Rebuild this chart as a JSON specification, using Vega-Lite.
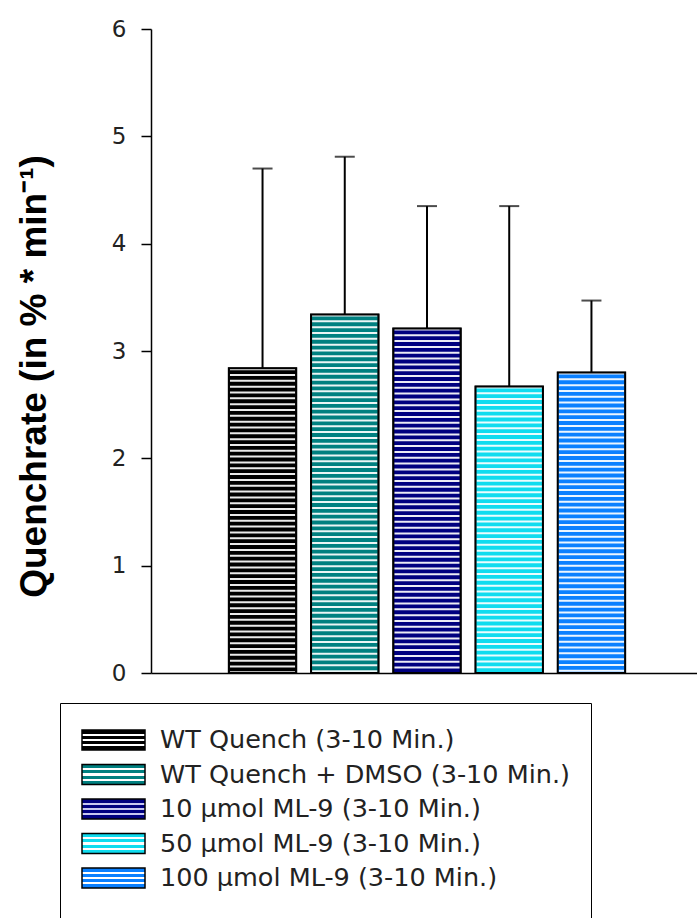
{
  "$schema": "https://vega.github.io/schema/vega-lite/v6.json",
  "width": 546,
  "height": 644,
  "autosize": {"type": "none"},
  "padding": {"left": 151, "top": 29, "right": 0, "bottom": 245},
  "background": "#ffffff",
  "config": {"view": {"stroke": null}, "axis": {"grid": false}},
  "data": {
    "values": [
      {"group": "WT Quench (3-10 Min.)", "mean": 2.84, "upper": 4.70},
      {"group": "WT Quench + DMSO (3-10 Min.)", "mean": 3.34, "upper": 4.81},
      {"group": "10 µmol ML-9 (3-10 Min.)", "mean": 3.21, "upper": 4.35},
      {"group": "50 µmol ML-9 (3-10 Min.)", "mean": 2.67, "upper": 4.35},
      {"group": "100 µmol ML-9 (3-10 Min.)", "mean": 2.80, "upper": 3.47}
    ]
  },
  "encoding": {
    "x": {
      "field": "group",
      "type": "nominal",
      "sort": null,
      "scale": {"paddingInner": 0.18, "paddingOuter": 0.91, "align": 0.52},
      "axis": {"title": null, "labels": false, "ticks": false, "domainColor": "#000000", "domainWidth": 1.5}
    },
    "y": {
      "field": "mean",
      "type": "quantitative",
      "scale": {"domain": [0, 6], "nice": false},
      "axis": {
        "title": "Quenchrate (in % * min⁻¹)",
        "values": [0, 1, 2, 3, 4, 5, 6],
        "format": "d",
        "tickSize": 10,
        "tickWidth": 1.5,
        "tickColor": "#000000",
        "domainColor": "#000000",
        "domainWidth": 1.5,
        "labelFont": "DejaVu Sans",
        "labelFontSize": 23,
        "labelColor": "#222222",
        "labelPadding": 15,
        "labelFlush": false,
        "titleFont": "Liberation Sans",
        "titleFontSize": 37,
        "titleFontWeight": "bold",
        "titleColor": "#000000",
        "titleX": -98,
        "titleY": 347
      }
    }
  },
  "layer": [
    {
      "mark": {"type": "bar", "stroke": "#000000", "strokeWidth": 1.5},
      "encoding": {
        "color": {
          "field": "group",
          "type": "nominal",
          "sort": null,
          "scale": {
            "domain": ["WT Quench (3-10 Min.)", "WT Quench + DMSO (3-10 Min.)", "10 µmol ML-9 (3-10 Min.)", "50 µmol ML-9 (3-10 Min.)", "100 µmol ML-9 (3-10 Min.)"],
            "range": [
              {"expr": "{gradient: 'linear', x1: 0, y1: 0, x2: 0, y2: 1, stops: [{offset: 0, color: '#000000'}, {offset: 0.2, color: '#000000'}, {offset: 0.2, color: '#ffffff'}, {offset: 0.3, color: '#ffffff'}, {offset: 0.3, color: '#000000'}, {offset: 0.45, color: '#000000'}, {offset: 0.45, color: '#ffffff'}, {offset: 0.55, color: '#ffffff'}, {offset: 0.55, color: '#000000'}, {offset: 0.7, color: '#000000'}, {offset: 0.7, color: '#ffffff'}, {offset: 0.8, color: '#ffffff'}, {offset: 0.8, color: '#000000'}, {offset: 1, color: '#000000'}]}"},
              {"expr": "{gradient: 'linear', x1: 0, y1: 0, x2: 0, y2: 1, stops: [{offset: 0, color: '#008080'}, {offset: 0.2, color: '#008080'}, {offset: 0.2, color: '#ffffff'}, {offset: 0.3, color: '#ffffff'}, {offset: 0.3, color: '#008080'}, {offset: 0.45, color: '#008080'}, {offset: 0.45, color: '#ffffff'}, {offset: 0.55, color: '#ffffff'}, {offset: 0.55, color: '#008080'}, {offset: 0.7, color: '#008080'}, {offset: 0.7, color: '#ffffff'}, {offset: 0.8, color: '#ffffff'}, {offset: 0.8, color: '#008080'}, {offset: 1, color: '#008080'}]}"},
              {"expr": "{gradient: 'linear', x1: 0, y1: 0, x2: 0, y2: 1, stops: [{offset: 0, color: '#000080'}, {offset: 0.2, color: '#000080'}, {offset: 0.2, color: '#c8c8f0'}, {offset: 0.3, color: '#c8c8f0'}, {offset: 0.3, color: '#000080'}, {offset: 0.45, color: '#000080'}, {offset: 0.45, color: '#c8c8f0'}, {offset: 0.55, color: '#c8c8f0'}, {offset: 0.55, color: '#000080'}, {offset: 0.7, color: '#000080'}, {offset: 0.7, color: '#c8c8f0'}, {offset: 0.8, color: '#c8c8f0'}, {offset: 0.8, color: '#000080'}, {offset: 1, color: '#000080'}]}"},
              {"expr": "{gradient: 'linear', x1: 0, y1: 0, x2: 0, y2: 1, stops: [{offset: 0, color: '#10dcef'}, {offset: 0.2, color: '#10dcef'}, {offset: 0.2, color: '#ffffff'}, {offset: 0.3, color: '#ffffff'}, {offset: 0.3, color: '#10dcef'}, {offset: 0.45, color: '#10dcef'}, {offset: 0.45, color: '#ffffff'}, {offset: 0.55, color: '#ffffff'}, {offset: 0.55, color: '#10dcef'}, {offset: 0.7, color: '#10dcef'}, {offset: 0.7, color: '#ffffff'}, {offset: 0.8, color: '#ffffff'}, {offset: 0.8, color: '#10dcef'}, {offset: 1, color: '#10dcef'}]}"},
              {"expr": "{gradient: 'linear', x1: 0, y1: 0, x2: 0, y2: 1, stops: [{offset: 0, color: '#0b80ff'}, {offset: 0.2, color: '#0b80ff'}, {offset: 0.2, color: '#ffffff'}, {offset: 0.3, color: '#ffffff'}, {offset: 0.3, color: '#0b80ff'}, {offset: 0.45, color: '#0b80ff'}, {offset: 0.45, color: '#ffffff'}, {offset: 0.55, color: '#ffffff'}, {offset: 0.55, color: '#0b80ff'}, {offset: 0.7, color: '#0b80ff'}, {offset: 0.7, color: '#ffffff'}, {offset: 0.8, color: '#ffffff'}, {offset: 0.8, color: '#0b80ff'}, {offset: 1, color: '#0b80ff'}]}"}
            ]
          },
          "legend": {
            "orient": "none",
            "legendX": -91,
            "legendY": 674,
            "direction": "vertical",
            "title": " ",
            "titleOrient": "bottom",
            "titleFontSize": 10,
            "titlePadding": 12,
            "symbolType": "M-1,-0.3175H1V0.3175H-1Z",
            "symbolSize": 3969,
            "symbolStrokeColor": "#000000",
            "symbolStrokeWidth": 1.5,
            "symbolOpacity": 1,
            "labelFont": "DejaVu Sans",
            "labelFontSize": 25.5,
            "labelColor": "#222222",
            "labelOffset": 14,
            "labelLimit": 0,
            "clipHeight": 32,
            "rowPadding": 2.5,
            "padding": 21,
            "strokeColor": "#000000",
            "fillColor": "#ffffff"
          }
        }
      }
    },
    {
      "mark": {"type": "bar"},
      "encoding": {
        "fill": {
          "field": "group",
          "type": "nominal",
          "sort": null,
          "legend": null,
          "scale": {
            "domain": ["WT Quench (3-10 Min.)", "WT Quench + DMSO (3-10 Min.)", "10 µmol ML-9 (3-10 Min.)", "50 µmol ML-9 (3-10 Min.)", "100 µmol ML-9 (3-10 Min.)"],
            "range": ["#000000", "#008080", "#000080", "#10dcef", "#0b80ff"]
          }
        }
      }
    },
    {
      "mark": {"type": "rule", "color": "#ffffff", "opacity": 0.92, "strokeWidth": 65.4, "strokeDash": [2, 3.83], "strokeCap": "butt"},
      "encoding": {"y2": {"datum": 0}}
    },
    {
      "mark": {"type": "bar", "fillOpacity": 0, "stroke": "#000000", "strokeWidth": 2},
      "encoding": {}
    },
    {
      "mark": {"type": "rule", "color": "#000000", "strokeWidth": 2},
      "encoding": {"y2": {"field": "upper"}}
    },
    {
      "mark": {"type": "tick", "color": "#000000", "size": 20, "thickness": 2},
      "encoding": {"y": {"field": "upper", "type": "quantitative", "title": "Quenchrate (in % * min⁻¹)"}}
    }
  ]
}
